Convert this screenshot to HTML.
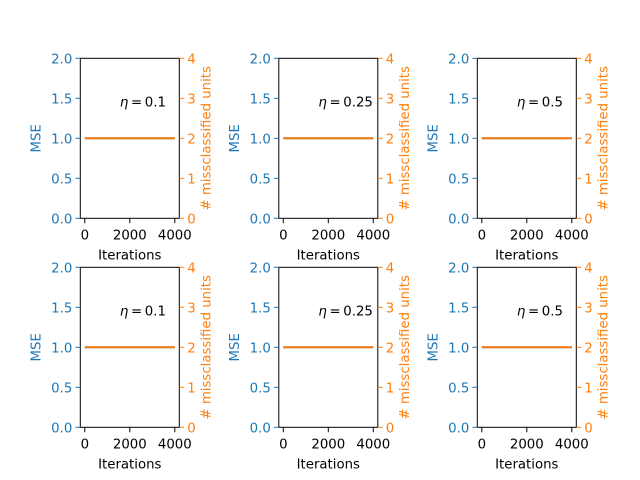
<!DOCTYPE html>
<html><head><meta charset="utf-8"><style>
body{margin:0;background:#fff}
svg{display:block;font-family:"DejaVu Sans","Liberation Sans",sans-serif}
</style></head><body>
<svg id="fig" width="640" height="480"></svg>
<script>
const etas = ["0.1","0.25","0.5","0.1","0.25","0.5"];
const iterations = [0, 4000];
const mseValues = [1.0, 1.0];
const misValues = [2, 2];
const xTicks = [0, 2000, 4000];
const leftTicks = [0.0, 0.5, 1.0, 1.5, 2.0];
const rightTicks = [0, 1, 2, 3, 4];
const NS = "http://www.w3.org/2000/svg";
const svg = document.getElementById('fig');
function el(tag, attrs, parent, text){
  const e = document.createElementNS(NS, tag);
  for (const k in attrs) e.setAttribute(k, attrs[k]);
  if (text !== undefined) e.textContent = text;
  (parent||svg).appendChild(e); return e;
}
const colX = [80.3, 278.8, 477.3], rowY = [58.3, 267.3];
const W = 99, H = 160, FS = 13.3;
const BLUE = "#1f77b4", ORANGE = "#ff7f0e";
etas.forEach((eta, i) => {
  const x0 = colX[i % 3], y0 = rowY[Math.floor(i / 3)];
  const g = el('g', {}, svg);
  
  
  const sx = v => x0 + (v + 200) / 4400 * W;
  const syL = v => y0 + H - v / 2 * H;
  const syR = v => y0 + H - v / 4 * H;
  const l1 = el('polyline', {points: iterations.map((t, j) => sx(t) + ',' + syL(mseValues[j])).join(' '), fill: 'none', stroke: BLUE, 'stroke-width': 2}, g);
  
  
  const l2 = el('polyline', {points: iterations.map((t, j) => sx(t) + ',' + syR(misValues[j])).join(' '), fill: 'none', stroke: ORANGE, 'stroke-width': 2}, g);
  
  
  const fr = el('rect', {x: x0, y: y0, width: W, height: H, fill: 'none', stroke: '#000', 'stroke-width': 1}, g);
  
  
  xTicks.forEach(t => {
    el('line', {x1: sx(t), x2: sx(t), y1: y0 + H, y2: y0 + H + 4.9, stroke: '#000', 'stroke-width': 1}, g);
    const tx = el('text', {x: sx(t), y: y0 + H + 21, 'text-anchor': 'middle', 'font-size': FS, fill: '#000'}, g, String(t));
    
    
  });
  leftTicks.forEach(t => {
    el('line', {x1: x0, x2: x0 - 4.9, y1: syL(t), y2: syL(t), stroke: BLUE, 'stroke-width': 1}, g);
    const tx = el('text', {x: x0 - 8, y: syL(t) + 5, 'text-anchor': 'end', 'font-size': FS, fill: BLUE}, g, t.toFixed(1));
    
    
  });
  rightTicks.forEach(t => {
    el('line', {x1: x0 + W, x2: x0 + W + 4.9, y1: syR(t), y2: syR(t), stroke: ORANGE, 'stroke-width': 1}, g);
    const tx = el('text', {x: x0 + W + 8, y: syR(t) + 5, 'font-size': FS, fill: ORANGE}, g, String(t));
    
    
  });
  const xl = el('text', {x: x0 + W / 2, y: y0 + H + 41, 'text-anchor': 'middle', 'font-size': FS, fill: '#000'}, g, 'Iterations');
  
  
  const yl = el('text', {x: 0, y: 0, 'text-anchor': 'middle', 'font-size': FS, fill: BLUE, transform: `translate(${x0 - 40},${y0 + H / 2}) rotate(-90)`}, g, 'MSE');
  
  
  const yr = el('text', {x: 0, y: 0, 'text-anchor': 'middle', 'font-size': FS, fill: ORANGE, transform: `translate(${x0 + W + 31},${y0 + H / 2}) rotate(-90)`}, g, '# missclassified units');
  
  
  const et = el('text', {x: x0 + 0.4 * W, y: y0 + 48, 'font-size': FS, fill: '#000'}, g);
  
  
  el('tspan', {'font-style': 'italic'}, et, 'η');
  el('tspan', {}, et, '\u2009=\u2009' + eta);
});
</script>
</body></html>
